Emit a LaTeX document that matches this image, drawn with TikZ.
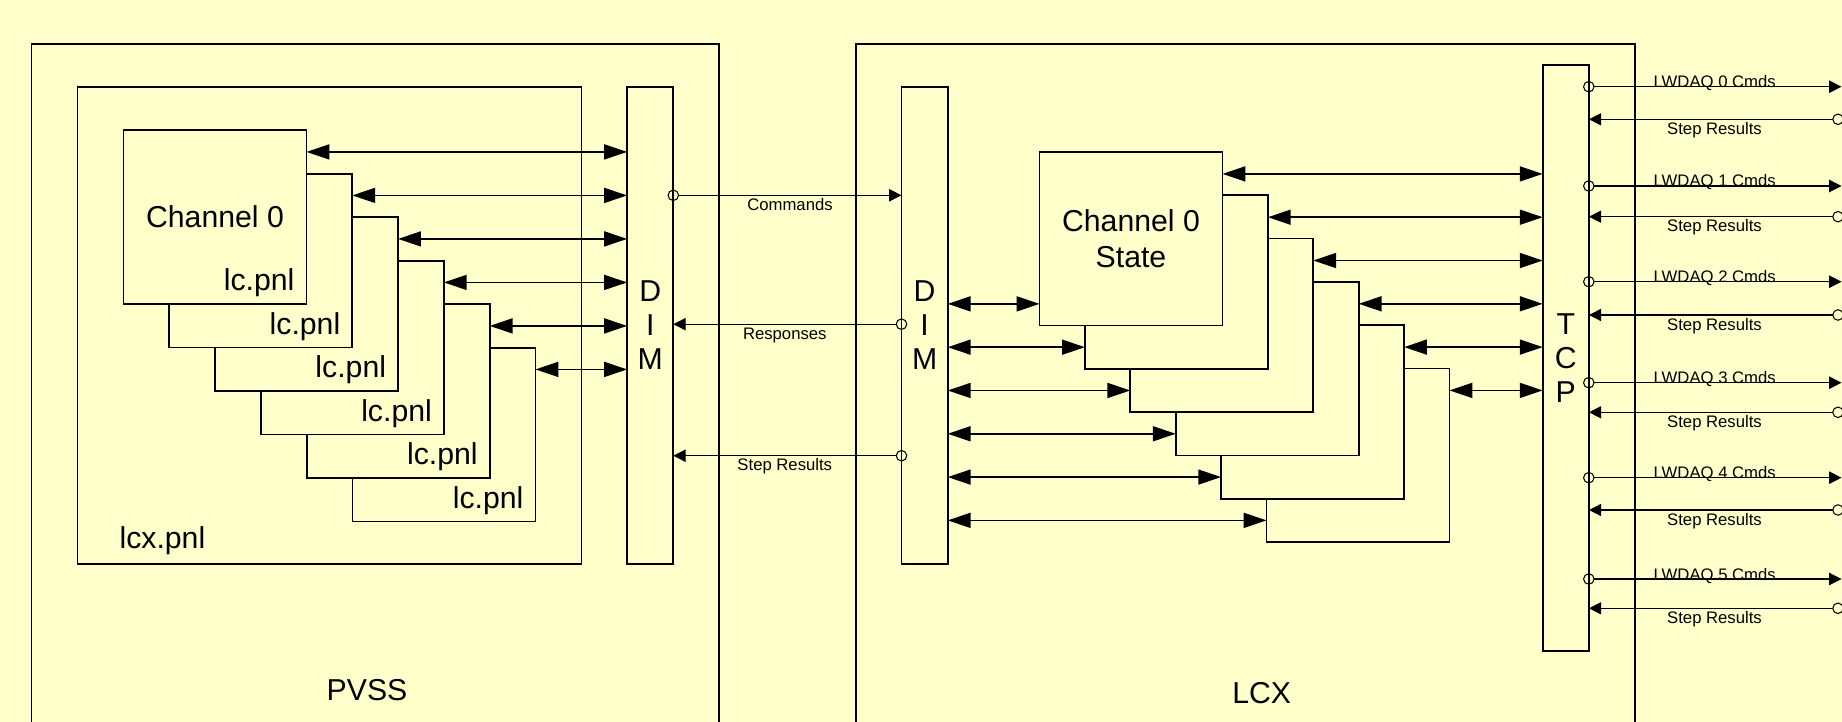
\documentclass[tikz,border=0pt]{standalone}
\usepackage{fontspec}
\setmainfont{Liberation Sans}
\usetikzlibrary{arrows.meta,calc,positioning}
\definecolor{PaleYellow}{RGB}{255,255,204}

\tikzset{
  panel/.style={draw,fill=PaleYellow,line width=1pt,inner sep=0pt,outer sep=0pt,
    minimum width=3.66cm,minimum height=3.472cm},
  bus/.style={draw,fill=PaleYellow,line width=1pt,inner sep=0pt,outer sep=0pt,
    minimum width=0.925cm,align=center,font=\fontsize{17.2}{19.5}\selectfont},
  port/.style={draw,circle,line width=0.6pt,inner sep=0pt,outer sep=0pt,minimum size=0.21cm},
  dbl/.style={{Triangle[length=13pt,width=8.5pt]}-{Triangle[length=13pt,width=8.5pt]},line width=1pt},
  sig/.style={-{Triangle[length=7pt,width=7pt]},line width=0.6pt},
  boxlabel/.style={font=\fontsize{17.2}{20.2}\selectfont,align=center},
  msglabel/.style={font=\fontsize{9.5}{11}\selectfont,inner sep=0pt},
}

\begin{document}
\begin{tikzpicture}[x=0.02cm,y=-0.02cm]
\useasboundingbox[fill=PaleYellow] (0,0) rectangle (1842,722);

\draw[line width=1pt] (31.5,722) |- (718.8,43.7) -- (718.8,722);
\node[boxlabel] (pvss) at (367,690) {PVSS};
\node[draw,line width=1pt,inner sep=0pt,outer sep=0pt,minimum width=10.082cm,minimum height=9.548cm] (lcx) at (329.6,325.3) {};
\node[boxlabel] (lcxlab) at (162.4,541) {lcx.pnl};
\node[bus,minimum height=9.548cm] (dimL) at (650.2,325.3) {D\\I\\M};

\foreach \i in {5,4,...,0}{
  \node[panel] (lc\i) at ({215+45.8*\i},{217.1+43.5*\i}) {};
  \node[boxlabel,anchor=base east,inner sep=0pt] (lcl\i) at ($(lc\i.south east)+(-11.7,-13)$) {lc.pnl};
}
\node[boxlabel] (ch0) at (lc0.center) {Channel 0};

\foreach \i in {0,...,5}{
  \coordinate (la\i) at ($(lc\i.north east)+(0,21.6)$);
  \draw[dbl] (la\i) -- (la\i -| dimL.west);
}

\draw[line width=1pt] (856,722) |- (1634.8,43.7) -- (1634.8,722);
\node[boxlabel] (lcxtext) at (1261.7,693) {LCX};
\node[bus,minimum height=9.548cm] (dimR) at (924.6,325.3) {D\\I\\M};
\node[bus,minimum height=11.72cm] (tcp) at (1565.8,358) {T\\C\\P};

\foreach \j in {5,4,...,0}{
  \node[panel] (st\j) at ({1131+45.4*\j},{238.7+43.3*\j}) {};
}
\node[boxlabel] (ch0st) at (st0.center) {Channel 0\\State};

\foreach \j in {0,...,5}{
  \coordinate (ta\j) at ($(st\j.north east)+(0,22)$);
  \draw[dbl] (ta\j) -- (ta\j -| tcp.west);
  \coordinate (da\j) at ($(st\j.south west)+(0,-21.6)$);
  \draw[dbl] (da\j -| dimR.east) -- (da\j);
}

\node[port] (cmdout) at (673.3,195.3) {};
\draw[sig] (cmdout) -- (cmdout -| dimR.west)
  node[midway,anchor=base,yshift=-8.7pt,msglabel] (cmdlab) {Commands};
\node[port] (respout) at (901.5,324.2) {};
\draw[sig] (respout) -- (respout -| dimL.east)
  node[midway,anchor=base,yshift=-8.7pt,msglabel] (resplab) {Responses};
\node[port] (stepout) at (901.5,455.7) {};
\draw[sig] (stepout) -- (stepout -| dimL.east)
  node[midway,anchor=base,yshift=-8.7pt,msglabel] (steplab) {Step Results};

\foreach \k/\yc/\ys in {0/86.7/119.3,1/186/216.7,2/281.7/315,3/382.7/412.3,4/477.7/510,5/579/608.3}{
  \node[port] (lw\k) at (1588.8,\yc) {};
  \coordinate (lwend\k) at (1841.5,\yc);
  \draw[sig] (lw\k) -- (lwend\k);
  \node[msglabel,anchor=base] (lwlab\k) at (1714.7,{\yc+1}) {LWDAQ \k\ Cmds};
  \node[port] (sr\k) at (1838,\ys) {};
  \draw[sig] (sr\k) -- (sr\k -| tcp.east);
  \node[msglabel,anchor=base] (srlab\k) at (1714.5,{\ys+15.2}) {Step Results};
}
\end{tikzpicture}
\end{document}
